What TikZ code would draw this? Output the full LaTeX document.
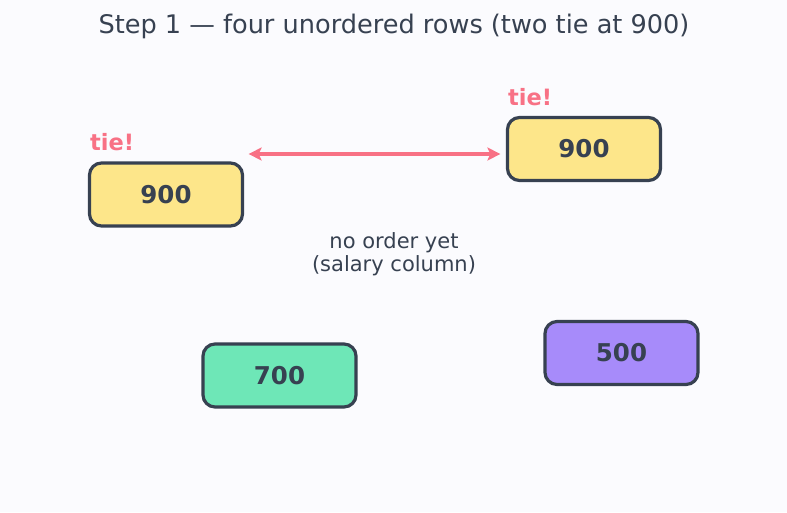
\documentclass[tikz,border=0pt]{standalone}
\usepackage{fontspec}
\setmainfont{DejaVu Sans}
\usetikzlibrary{arrows.meta}
\definecolor{ink}{HTML}{374151}
\definecolor{tiered}{HTML}{F87185}
\definecolor{yellowfill}{HTML}{FDE68A}
\definecolor{greenfill}{HTML}{6EE7B7}
\definecolor{purplefill}{HTML}{A78BFA}
\definecolor{bg}{HTML}{FBFBFE}

\begin{document}
\begin{tikzpicture}[x=1pt,y=-1pt,
  row/.style={draw=ink,line width=3.2pt,rounded corners=12pt,minimum width=153pt,minimum height=63pt,inner sep=0pt,text=ink,font=\fontsize{24.5}{28}\selectfont\bfseries},
  tie/.style={anchor=base west,inner sep=0pt,text=tiered,font=\fontsize{22.5}{26}\selectfont\bfseries},
  tiearrow/.style={draw=tiered,line width=3.5pt,{Stealth[length=13pt,width=13pt,inset=3pt]}-{Stealth[length=13pt,width=13pt,inset=3pt]}}]
%Фон и рамка картинки
\fill[bg] (0,0) rectangle (787,512);
%Заголовок
\node[anchor=base,inner sep=0pt,text=ink,font=\fontsize{25.6}{30}\selectfont] (title) at (394,33.5) {Step 1 — four unordered rows (two tie at 900)};
%Строки таблицы
\node[row,fill=yellowfill] (r1) at (166,194.5) {900};
\node[row,fill=yellowfill] (r2) at (584,149) {900};
\node[row,fill=greenfill] (r3) at (279.5,375.5) {700};
\node[row,fill=purplefill] (r4) at (621.5,353) {500};
%Метки совпадения
\node[tie] (tie1) at (90,150) {tie!};
\node[tie] (tie2) at (508,105) {tie!};
\draw[tiearrow] ([shift={(4.5,-40.5)}]r1.east) -- ([shift={(-5.5,5)}]r2.west);%стрелка между 900
%Подпись в центре
\node[align=center,text=ink,font=\fontsize{21}{23.4}\selectfont] (note) at (394,254) {no order yet\\(salary column)};
\end{tikzpicture}
\end{document}
